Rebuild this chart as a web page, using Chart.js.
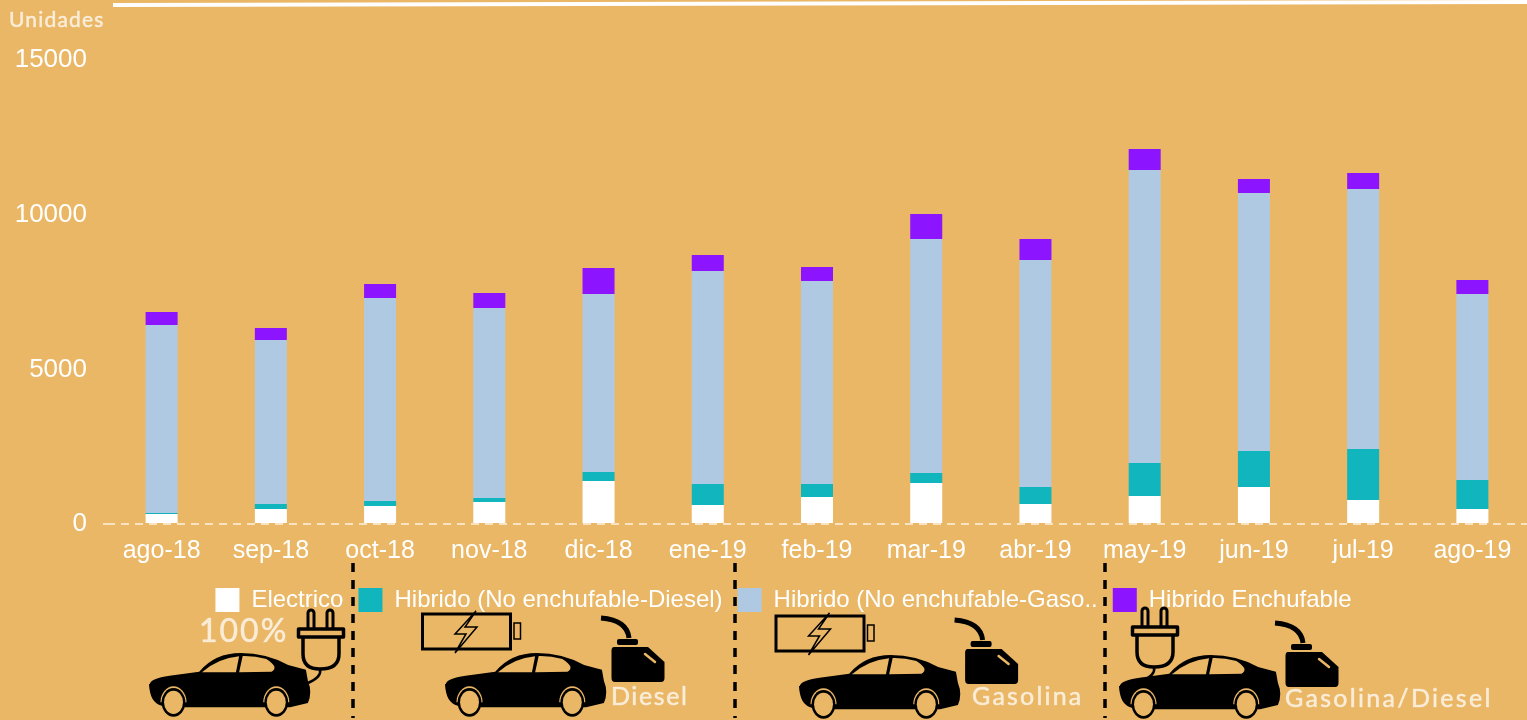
<!DOCTYPE html>
<html>
<head>
<meta charset="utf-8">
<title>Unidades</title>
<script src="https://cdn.jsdelivr.net/npm/chart.js@4"></script>
<style>
  html, body { margin: 0; padding: 0; background: #eab766; overflow: hidden; }
  #wrap { position: relative; width: 1527px; height: 720px; }
</style>
</head>
<body>
<div id="wrap"><canvas id="chart"></canvas></div>
<script>
const months = ["ago-18", "sep-18", "oct-18", "nov-18", "dic-18", "ene-19", "feb-19", "mar-19", "abr-19", "may-19", "jun-19", "jul-19", "ago-19"];
const electrico = [323, 485, 582, 711, 1390, 614, 873, 1326, 647, 905, 1196, 776, 485];
const hibridoDiesel = [32, 162, 162, 130, 291, 679, 420, 323, 549, 1067, 1164, 1649, 938];
const hibridoGasolina = [6079, 5302, 6563, 6143, 5755, 6887, 6564, 7566, 7339, 9473, 8342, 8406, 6013];
const hibridoEnchufable = [420, 388, 453, 485, 841, 517, 452, 808, 680, 679, 452, 517, 453];

const BG = "#eab766";
const INK = "#000";
const ZERO_LINE = "rgba(255,255,255,0.6)";

// coche dibujado en unidades del zoom (2.53x en horizontal, 3x en vertical)
function drawCar(ctx, x, y) {
  ctx.save();
  ctx.translate(x, y);
  ctx.scale(1 / 2.53, 1 / 3);
  ctx.translate(-48, -282);
  ctx.fillStyle = INK;
  ctx.beginPath();
  ctx.moveTo(50, 375);
  ctx.quadraticCurveTo(52, 358, 100, 350);
  ctx.lineTo(175, 338);
  ctx.quadraticCurveTo(215, 282, 280, 282);
  ctx.quadraticCurveTo(345, 282, 400, 318);
  ctx.lineTo(445, 332);
  ctx.lineTo(450, 365);
  ctx.quadraticCurveTo(462, 400, 450, 432);
  ctx.lineTo(405, 445);
  ctx.lineTo(140, 445);
  ctx.lineTo(80, 440);
  ctx.quadraticCurveTo(50, 432, 48, 375);
  ctx.fill();
  ctx.fillStyle = BG;
  ctx.beginPath();
  ctx.moveTo(182, 340);
  ctx.lineTo(268, 340);
  ctx.lineTo(276, 292);
  ctx.quadraticCurveTo(222, 298, 182, 340);
  ctx.fill();
  ctx.beginPath();
  ctx.moveTo(276, 340);
  ctx.lineTo(358, 338);
  ctx.quadraticCurveTo(378, 325, 345, 300);
  ctx.quadraticCurveTo(315, 290, 285, 291);
  ctx.fill();
  [110, 370].forEach((cx) => {
    ctx.fillStyle = BG;
    ctx.beginPath();
    ctx.ellipse(cx, 430, 33, 48, 0, Math.PI, 0);
    ctx.fill();
    ctx.fillStyle = INK;
    ctx.beginPath();
    ctx.ellipse(cx, 430, 30, 43, 0, 0, Math.PI * 2);
    ctx.fill();
    ctx.fillStyle = BG;
    ctx.beginPath();
    ctx.ellipse(cx, 430, 24, 35, 0, 0, Math.PI * 2);
    ctx.fill();
  });
  ctx.restore();
}

function drawPlug(ctx, x, y) {
  ctx.save();
  ctx.translate(x, y);
  ctx.strokeStyle = INK;
  ctx.lineWidth = 3;
  ctx.lineJoin = "round";
  [[308, 314], [327, 333]].forEach(([a, b]) => {
    ctx.beginPath();
    ctx.moveTo(a, 628);
    ctx.lineTo(a, 613);
    ctx.arc((a + b) / 2, 613, (b - a) / 2, Math.PI, 0);
    ctx.lineTo(b, 628);
    ctx.stroke();
  });
  ctx.lineWidth = 3.5;
  ctx.strokeRect(298.5, 629, 45, 8);
  ctx.beginPath();
  ctx.moveTo(303, 637);
  ctx.lineTo(303, 654);
  ctx.quadraticCurveTo(303, 669, 320, 669);
  ctx.quadraticCurveTo(339, 669, 339, 654);
  ctx.lineTo(339, 637);
  ctx.stroke();
  ctx.lineWidth = 2.5;
  ctx.beginPath();
  ctx.moveTo(320, 669);
  ctx.quadraticCurveTo(322, 677, 308, 683);
  ctx.stroke();
  ctx.restore();
}

function drawBattery(ctx, x, y) {
  ctx.save();
  ctx.translate(x, y);
  ctx.strokeStyle = INK;
  ctx.lineWidth = 3;
  ctx.strokeRect(422.5, 614, 88, 35);
  ctx.lineWidth = 1.5;
  ctx.strokeRect(514, 623, 6.5, 16);
  ctx.fillStyle = BG;
  ctx.beginPath();
  ctx.moveTo(476, 611);
  ctx.lineTo(455, 634);
  ctx.lineTo(466, 634);
  ctx.lineTo(455, 653);
  ctx.lineTo(477, 627);
  ctx.lineTo(465, 627);
  ctx.closePath();
  ctx.fill();
  ctx.stroke();
  ctx.restore();
}

function drawCan(ctx, x, y) {
  ctx.save();
  ctx.translate(x, y);
  ctx.fillStyle = INK;
  ctx.strokeStyle = INK;
  ctx.lineWidth = 5;
  ctx.beginPath();
  ctx.moveTo(601, 618);
  ctx.quadraticCurveTo(627, 620, 629, 638);
  ctx.stroke();
  ctx.beginPath();
  ctx.roundRect(617, 639, 21, 6, 2);
  ctx.fill();
  ctx.beginPath();
  ctx.moveTo(614, 647);
  ctx.lineTo(648, 647);
  ctx.lineTo(664.5, 662);
  ctx.lineTo(664.5, 678);
  ctx.quadraticCurveTo(664.5, 682, 661, 682);
  ctx.lineTo(615, 682);
  ctx.quadraticCurveTo(611.5, 682, 611.5, 678);
  ctx.lineTo(611.5, 651);
  ctx.quadraticCurveTo(611.5, 647, 614, 647);
  ctx.fill();
  ctx.strokeStyle = BG;
  ctx.lineWidth = 2.5;
  ctx.lineCap = "round";
  ctx.beginPath();
  ctx.moveTo(645, 654);
  ctx.lineTo(655, 662);
  ctx.stroke();
  ctx.restore();
}

function handText(ctx, text, x, y, size, spacing) {
  ctx.save();
  ctx.font = "400 " + size + "px Lato";
  ctx.letterSpacing = spacing + "px";
  ctx.fillStyle = "rgba(255,255,255,0.72)";
  ctx.strokeStyle = "rgba(255,255,255,0.45)";
  ctx.lineWidth = 0.7;
  ctx.textBaseline = "middle";
  ctx.fillText(text, x, y);
  ctx.strokeText(text, x, y);
  ctx.restore();
}

const decoration = {
  id: "decoration",
  afterLayout(chart) {
    // la leyenda va algo a la derecha del centro del lienzo
    chart.legend.left += 20;
    chart.legend.right += 20;
  },
  afterDraw(chart) {
    const ctx = chart.ctx;
    ctx.save();
    // linea blanca superior
    ctx.strokeStyle = "#fff";
    ctx.lineWidth = 4;
    ctx.beginPath();
    ctx.moveTo(113, 5);
    ctx.lineTo(1527, 2);
    ctx.stroke();
    handText(ctx, "Unidades", 9, 20, 21, 1.2);
    // separadores
    ctx.strokeStyle = INK;
    ctx.lineWidth = 3.5;
    ctx.setLineDash([9, 8]);
    [353, 735, 1105].forEach((x) => {
      ctx.beginPath();
      ctx.moveTo(x, 563);
      ctx.lineTo(x, 718);
      ctx.stroke();
    });
    ctx.setLineDash([]);
    ctx.restore();

    drawCar(ctx, 149, 653);
    drawCar(ctx, 445, 653);
    drawCar(ctx, 799, 655);
    drawCar(ctx, 1119, 655);
    drawPlug(ctx, 0, 0);
    drawPlug(ctx, 834, -2);
    drawBattery(ctx, 0, 0);
    drawBattery(ctx, 353.5, 2);
    drawCan(ctx, 0, 0);
    drawCan(ctx, 353.6, 2);
    drawCan(ctx, 674, 5);
    handText(ctx, "100%", 199, 632, 32, 2);
    handText(ctx, "Diesel", 611, 697, 25, 1.6);
    handText(ctx, "Gasolina", 972, 697, 25, 2.2);
    handText(ctx, "Gasolina/Diesel", 1285, 699, 25, 2.3);
  },
};

const barOpts = { barPercentage: 0.293, categoryPercentage: 1 };

new Chart(document.getElementById("chart"), {
  type: "bar",
  data: {
    labels: months,
    datasets: [
      { label: "Electrico", data: electrico, backgroundColor: "#ffffff", ...barOpts },
      { label: "Hibrido (No enchufable-Diesel)", data: hibridoDiesel, backgroundColor: "#10b5be", ...barOpts },
      { label: "Hibrido (No enchufable-Gaso..", data: hibridoGasolina, backgroundColor: "#b0c9e3", ...barOpts },
      { label: "Hibrido Enchufable", data: hibridoEnchufable, backgroundColor: "#8d14ff", ...barOpts },
    ],
  },
  options: {
    responsive: true,
    maintainAspectRatio: false,
    animation: false,
    layout: { padding: { left: 0, top: 60, right: 0, bottom: 98 } },
    plugins: {
      tooltip: { enabled: false },
      legend: {
        position: "bottom",
        labels: {
          color: "#fff",
          font: { family: "Liberation Sans", size: 24 },
          boxWidth: 24,
          boxHeight: 24,
          padding: 15,
        },
      },
    },
    scales: {
      x: {
        stacked: true,
        grid: { display: false },
        border: { display: false },
        ticks: {
          color: "#fff",
          font: { family: "Liberation Sans", size: 25 },
          padding: 4,
          maxRotation: 0,
          autoSkip: false,
        },
        afterFit(scale) {
          scale.height = 49;
        },
      },
      y: {
        stacked: true,
        min: 0,
        max: 15000,
        grid: {
          color: (c) => (c.tick && c.tick.value === 0 ? ZERO_LINE : "transparent"),
          lineWidth: 2,
          tickLength: 4,
          tickBorderDash: [4, 4],
        },
        border: { display: false, dash: [8, 6] },
        ticks: {
          stepSize: 5000,
          color: "#fff",
          font: { family: "Liberation Sans", size: 26 },
          padding: 16,
          callback: (v) => String(v),
        },
        afterFit(scale) {
          scale.width = 107;
        },
      },
    },
  },
  plugins: [decoration],
});
</script>
</body>
</html>
